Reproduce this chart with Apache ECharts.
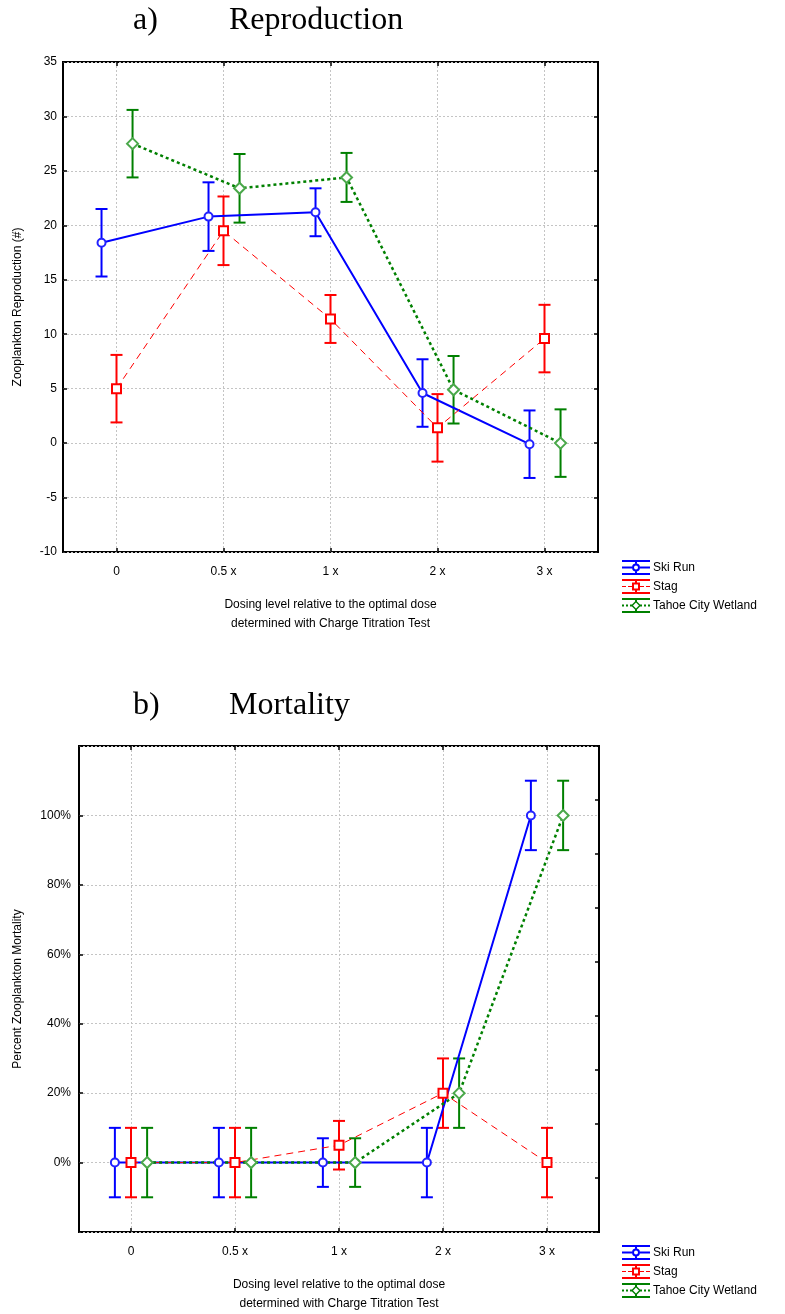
<!DOCTYPE html>
<html>
<head>
<meta charset="utf-8">
<script src="https://cdn.jsdelivr.net/npm/echarts@6/dist/echarts.min.js"></script>
<style>html,body{margin:0;padding:0;background:#fff;}#c{width:785px;height:1314px;}</style>
</head>
<body>
<div id="c"></div>
<script>
// ---- data ----
const categories = ['0', '0.5 x', '1 x', '2 x', '3 x'];
const seriesNames = ['Ski Run', 'Stag', 'Tahoe City Wetland'];

// a) Reproduction (#)
const reproSkiRun    = [18.4, 20.8, 21.2, 4.6, -0.1];
const reproSkiRunErr = [3.1, 3.15, 2.2, 3.1, 3.1];
const reproStag      = [5.0, 19.5, 11.4, 1.4, 9.6];
const reproStagErr   = [3.1, 3.15, 2.2, 3.1, 3.1];
const reproTahoe     = [27.5, 23.4, 24.4, 4.9, 0.0];
const reproTahoeErr  = [3.1, 3.15, 2.25, 3.1, 3.1];

// b) Mortality (%)
const mortSkiRun     = [0, 0, 0, 0, 100];
const mortSkiRunErr  = [10, 10, 7, 10, 10];
const mortStag       = [0, 0, 5, 20, 0];
const mortStagErr    = [10, 10, 7, 10, 10];
const mortTahoe      = [0, 0, 0, 20, 100];
const mortTahoeErr   = [10, 10, 7, 10, 10];

const reproYMin = -10, reproYMax = 35, reproYStep = 5;
const mortYMin = -20, mortYMax = 120, mortYStep = 20;
const mortLabelMin = 0, mortLabelMax = 100;

const xTitle = 'Dosing level relative to the optimal dose\ndetermined with Charge Titration Test';
const yTitleA = 'Zooplankton Reproduction (#)';
const yTitleB = 'Percent Zooplankton Mortality';

// ---- styles ----
const COLORS = ['#0000ff', '#ff0000', '#008000'];
const OFFS_A = [-0.14, 0, 0.15];
const OFFS_B = [-0.155, 0, 0.155];
const FONT = 'Liberation Sans, Arial, sans-serif';
const SERIF = 'Liberation Serif, Times New Roman, serif';

// helper: display category axis with half-steps so grid lines fall on category centres
const tickCats = [''];
categories.forEach(c => { tickCats.push(c); tickCats.push(''); });
const odd = (i) => i % 2 === 1;

const gridLine = { show: true, interval: odd, lineStyle: { color: '#c4c4c4', type: [2, 2], width: 1 } };
const ySplit = { show: true, lineStyle: { color: '#c4c4c4', type: [2, 2], width: 1 } };
const noLine = { show: false, onZero: false };
const tick = { show: true, inside: true, length: 4, lineStyle: { color: '#000', width: 1.5 } };

function xAxesFor(gi) {
  return [
    { type: 'category', gridIndex: gi, data: tickCats, boundaryGap: false, position: 'bottom',
      axisLine: noLine, axisTick: Object.assign({ interval: odd }, tick),
      axisLabel: { interval: odd, color: '#000', fontSize: 12, fontFamily: FONT, margin: 14 },
      splitLine: gridLine,
      name: xTitle, nameLocation: 'middle', nameGap: gi === 0 ? 43 : 43,
      nameTextStyle: { color: '#000', fontSize: 12, fontFamily: FONT, lineHeight: 19 } },
    { type: 'category', gridIndex: gi, data: tickCats, boundaryGap: false, position: 'top',
      axisLine: noLine, axisTick: Object.assign({ interval: odd }, tick),
      axisLabel: { show: false }, splitLine: { show: false } },
    { type: 'value', gridIndex: gi, min: -0.5, max: 4.5, show: false, axisLine: noLine, splitLine: { show: false } }
  ];
}

const titleStyle = { fontFamily: SERIF, fontSize: 32, fontWeight: 'normal', color: '#000' };

const option = {
  animation: false,
  backgroundColor: '#fff',
  title: [
    { text: 'a)', left: 128, top: 0, textStyle: titleStyle },
    { text: 'Reproduction', left: 224, top: 0, textStyle: titleStyle },
    { text: 'b)', left: 128, top: 685, textStyle: titleStyle },
    { text: 'Mortality', left: 224, top: 685, textStyle: titleStyle }
  ],
  grid: [
    { left: 63, top: 62, width: 535, height: 490, show: true, borderColor: '#000', borderWidth: 2, backgroundColor: 'transparent' },
    { left: 79, top: 746, width: 520, height: 490, show: true, borderColor: '#000', borderWidth: 2, backgroundColor: 'transparent' }
  ],
  xAxis: [].concat(xAxesFor(0), xAxesFor(1)),
  yAxis: [
    { type: 'value', gridIndex: 0, min: reproYMin, max: reproYMax, interval: reproYStep, position: 'left',
      axisLine: noLine, axisTick: tick,
      axisLabel: { color: '#000', fontSize: 12, fontFamily: FONT, margin: 6 },
      splitLine: ySplit,
      name: yTitleA, nameLocation: 'middle', nameGap: 39, nameRotate: 90,
      nameTextStyle: { color: '#000', fontSize: 12, fontFamily: FONT } },
    { type: 'value', gridIndex: 0, min: reproYMin, max: reproYMax, interval: reproYStep, position: 'right',
      axisLine: noLine, axisTick: tick,
      axisLabel: { show: false }, splitLine: { show: false } },
    { type: 'value', gridIndex: 1, min: mortYMin, max: mortYMax, interval: mortYStep, position: 'left',
      axisLine: noLine, axisTick: tick,
      axisLabel: { color: '#000', fontSize: 12, fontFamily: FONT, margin: 8,
        formatter: v => (v < mortLabelMin || v > mortLabelMax) ? '' : v + '%' },
      splitLine: ySplit,
      name: yTitleB, nameLocation: 'middle', nameGap: 55, nameRotate: 90,
      nameTextStyle: { color: '#000', fontSize: 12, fontFamily: FONT } },
    { type: 'value', gridIndex: 1, min: 0, max: 9, interval: 1, position: 'right',
      axisLine: noLine, axisTick: tick,
      axisLabel: { show: false }, splitLine: { show: false } }
  ],
  legend: [],
  series: []
};

// legend icons (error-bar style glyphs)
const bars = 'M0 0H28V2H0Z M0 13H28V15H0Z M13 2H15V3.5H13Z M13 11.5H15V13H13Z ';
const lineSolid = 'M0 6.5H10V8.5H0Z M18 6.5H28V8.5H18Z ';
const lineDash = 'M0 7H4V8H0Z M6 7H10V8H6Z M18 7H22V8H18Z M24 7H28V8H24Z ';
const lineDot = 'M0 6.5H2V8.5H0Z M4 6.5H6V8.5H4Z M8 6.5H10V8.5H8Z M18 6.5H20V8.5H18Z M22 6.5H24V8.5H22Z M26 6.5H28V8.5H26Z ';
const circleRing = 'M10 7.5A4 4 0 1 1 18 7.5A4 4 0 1 1 10 7.5Z M12 7.5A2 2 0 1 0 16 7.5A2 2 0 1 0 12 7.5Z';
const squareRing = 'M10 3.5H18V11.5H10Z M12 5.5V9.5H16V5.5Z';
const diamondRing = 'M14 2.5L19 7.5L14 12.5L9 7.5Z M14 4.5L11 7.5L14 10.5L17 7.5Z';
const icons = [
  'path://' + bars + lineSolid + circleRing,
  'path://' + bars + lineDash + squareRing,
  'path://' + bars + lineDot + diamondRing
];

function legendFor(top) {
  return {
    left: 617, top: top, orient: 'vertical', itemGap: 4, itemWidth: 28, itemHeight: 15, selectedMode: false,
    itemStyle: { borderWidth: 0 },
    textStyle: { color: '#000', fontSize: 12, fontFamily: FONT, padding: [0, 0, 0, -2] },
    data: seriesNames.map((n, i) => ({ name: n, icon: icons[i], itemStyle: { color: COLORS[i], borderWidth: 0 } }))
  };
}
option.legend.push(legendFor(555), legendFor(1240));

const lineStyles = [
  { color: COLORS[0], width: 2, type: 'solid' },
  { color: COLORS[1], width: 1, type: [7, 5] },
  { color: COLORS[2], width: 2.5, type: [3, 3] }
];
const symbols = ['emptyCircle', 'emptyRect', 'emptyDiamond'];
const symbolSizes = [8, 9, 11];
const symbolColors = ['#2222ff', '#ff0000', '#4aa84a'];

function errRender(color) {
  return function (params, api) {
    const x = api.value(0), lo = api.value(1), hi = api.value(2);
    const pt = api.coord([x, hi]);
    const pb = api.coord([x, lo]);
    const cw = 6;
    const st = { stroke: color, lineWidth: 2 };
    return {
      type: 'group',
      children: [
        { type: 'line', shape: { x1: pt[0], y1: pt[1], x2: pb[0], y2: pb[1] }, style: st },
        { type: 'line', shape: { x1: pt[0] - cw, y1: pt[1], x2: pt[0] + cw, y2: pt[1] }, style: st },
        { type: 'line', shape: { x1: pb[0] - cw, y1: pb[1], x2: pb[0] + cw, y2: pb[1] }, style: st }
      ]
    };
  };
}

function addChart(gi, values, errs, offs) {
  const xIdx = gi * 3 + 2;
  const yIdx = gi * 2;
  values.forEach((vals, s) => {
    option.series.push({
      name: seriesNames[s] + ' error ' + gi,
      type: 'custom', xAxisIndex: xIdx, yAxisIndex: yIdx, z: 2, silent: true,
      renderItem: errRender(COLORS[s]),
      data: vals.map((v, i) => [i + offs[s], v - errs[s][i], v + errs[s][i]])
    });
  });
  values.forEach((vals, s) => {
    option.series.push({
      name: seriesNames[s],
      type: 'line', xAxisIndex: xIdx, yAxisIndex: yIdx, z: 3,
      symbol: symbols[s], symbolSize: symbolSizes[s],
      itemStyle: { color: symbolColors[s], borderWidth: 2 },
      lineStyle: lineStyles[s],
      data: vals.map((v, i) => [i + offs[s], v])
    });
  });
}

addChart(0, [reproSkiRun, reproStag, reproTahoe], [reproSkiRunErr, reproStagErr, reproTahoeErr], OFFS_A);
addChart(1, [mortSkiRun, mortStag, mortTahoe], [mortSkiRunErr, mortStagErr, mortTahoeErr], OFFS_B);

const chart = echarts.init(document.getElementById('c'), null, { renderer: 'canvas' });
chart.setOption(option);
</script>
</body>
</html>
